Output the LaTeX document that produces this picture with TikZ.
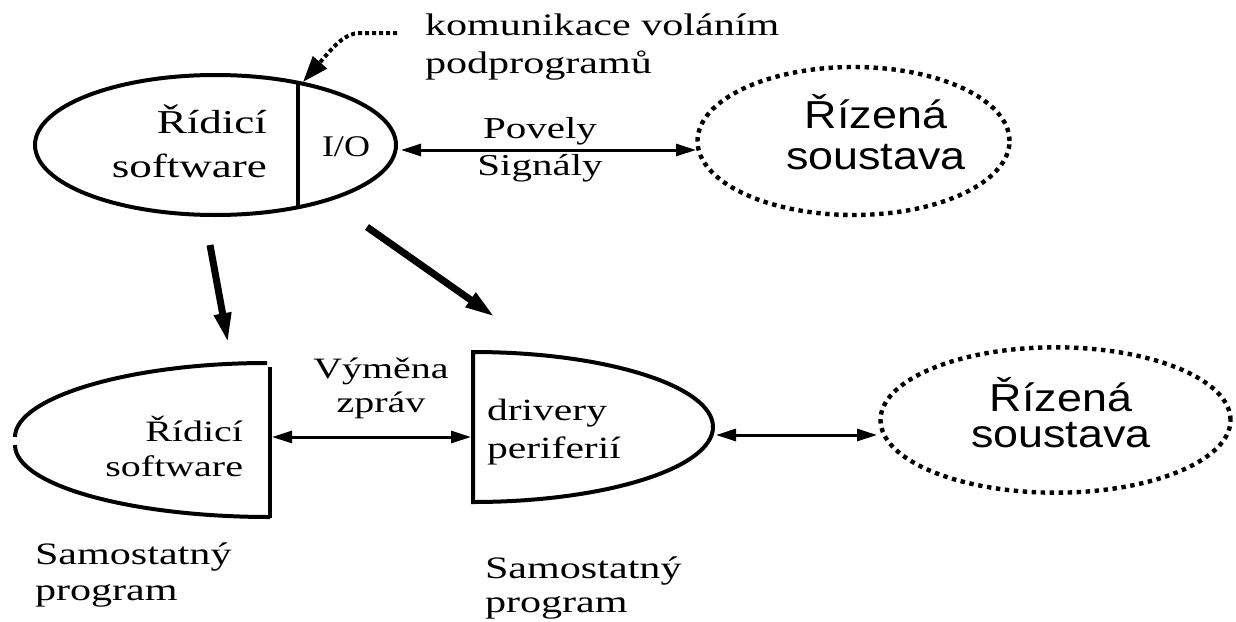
\documentclass[tikz,border=0pt]{standalone}
\usepackage{fontspec}
\setmainfont{Liberation Serif}
\setsansfont{Liberation Sans}
\newfontfamily\srfA{Liberation Serif}[FakeStretch=1.35]
\newfontfamily\srfB{Liberation Serif}[FakeStretch=1.2]
\newfontfamily\snsA{Liberation Sans}[FakeStretch=1.15]
\usetikzlibrary{shapes.geometric,arrows.meta}
\newcommand{\myfs}[2]{\fontsize{#1}{#2}\selectfont}
\begin{document}
\begin{tikzpicture}[x=0.5pt,y=-0.5pt,
  outl/.style={line width=2pt},
  dotell/.style={draw, ellipse, line width=2.2pt, dash pattern=on 2.2pt off 2.3pt, inner sep=0},
  txt/.style={inner sep=0pt, outer sep=0pt},
  dblarrow/.style={line width=1.5pt, {Triangle[length=10pt,width=6pt]}-{Triangle[length=10pt,width=6pt]}},
  fatarrow/.style={line width=3.5pt, -{Triangle[length=15pt,width=8pt]}},
  callout/.style={line width=2pt, dash pattern=on 2pt off 1.5pt, -{Triangle[length=13pt,width=9pt]}}
]
\fill[white] (0,0) rectangle (1236,621);
\useasboundingbox (0,0) rectangle (1236,621);

% top control software ellipse
\node[draw, ellipse, outl, minimum width=180.5pt, minimum height=70pt, inner sep=0] (ctrl) at (215.5,145) {};
\coordinate (divT) at (298,83);
\coordinate (divB) at (298,208);
\draw[outl] (divT) -- (divB);
\node[txt, anchor=east, align=right, font=\srfA\myfs{16.7pt}{22pt}] (ctrltxt) at (267,141.5) {Řídicí\\software};
\node[txt, font=\srfB\myfs{15pt}{18pt}] (io) at (346,146.5) {I/O};

% callout
\node[txt, anchor=west, align=left, font=\srfA\myfs{15.6pt}{19pt}] (kom) at (425,46.8) {komunikace voláním\\podprogramů};
\coordinate (cs) at (397,33);
\coordinate (ce) at (303,82);
\draw[callout] (cs) -- (360,33) .. controls (345,33) and (335,45) .. (ce);

% top plant
\node[dotell, minimum width=156pt, minimum height=74pt] (plant1) at (853.5,141) {};
\node[txt, align=center, font=\snsA\myfs{19.5pt}{20.5pt}] (plant1txt) at (876,132.5) {Řízená\\soustava};

\coordinate (p1a) at (401,150);
\coordinate (p1b) at (696,150);
\draw[dblarrow] (p1a) -- (p1b);
\node[txt, align=center, font=\srfA\myfs{15.2pt}{18.5pt}] (cmd) at (540,149.5) {Povely\\Signály};

% thick arrows
\coordinate (f1s) at (210,245);
\coordinate (f1e) at (228,343);
\draw[fatarrow] (f1s) -- (f1e);
\coordinate (f2s) at (367,227);
\coordinate (f2e) at (495,317);
\draw[fatarrow] (f2s) -- (f2e);

% bottom-left half ellipse (control software)
\draw[outl] (267,363) .. controls (128,363) and (15,398) .. (15,437);
\draw[outl] (15,445) .. controls (15,485) and (130,517) .. (270,517);
\draw[outl] (270,367) -- (270,518);
\node[txt, anchor=east, align=right, font=\srfA\myfs{14.8pt}{17.5pt}] (blt) at (243,446.5) {Řídicí\\software};

% bottom-middle half ellipse (drivers)
\draw[outl] (473,352) .. controls (605,352) and (713,386) .. (713,427)
  .. controls (713,468) and (605,502) .. (473,502) -- cycle;
\node[txt, anchor=west, align=left, font=\srfA\myfs{15.4pt}{19pt}] (drv) at (487,432) {drivery\\periferií};

\coordinate (blR) at (272,437);
\coordinate (dmL) at (471,437);
\draw[dblarrow] (blR) -- (dmL);
\node[txt, align=center, font=\srfA\myfs{14.8pt}{17pt}] (msg) at (381,388) {Výměna\\zpráv};

% bottom plant
\node[dotell, minimum width=175pt, minimum height=72.7pt] (plant2) at (1055.5,420) {};
\node[txt, align=center, font=\snsA\myfs{19.5pt}{18pt}] (plant2txt) at (1061,412.5) {Řízená\\soustava};
\coordinate (dmR) at (716,435);
\coordinate (p2L) at (877,435);
\draw[dblarrow] (dmR) -- (p2L);

% labels
\node[txt, anchor=west, align=left, font=\srfA\myfs{15.6pt}{18pt}] (lab1) at (35,575) {Samostatný\\program};
\node[txt, anchor=west, align=left, font=\srfA\myfs{15.6pt}{17pt}] (lab2) at (485,588) {Samostatný\\program};
\end{tikzpicture}
\end{document}
